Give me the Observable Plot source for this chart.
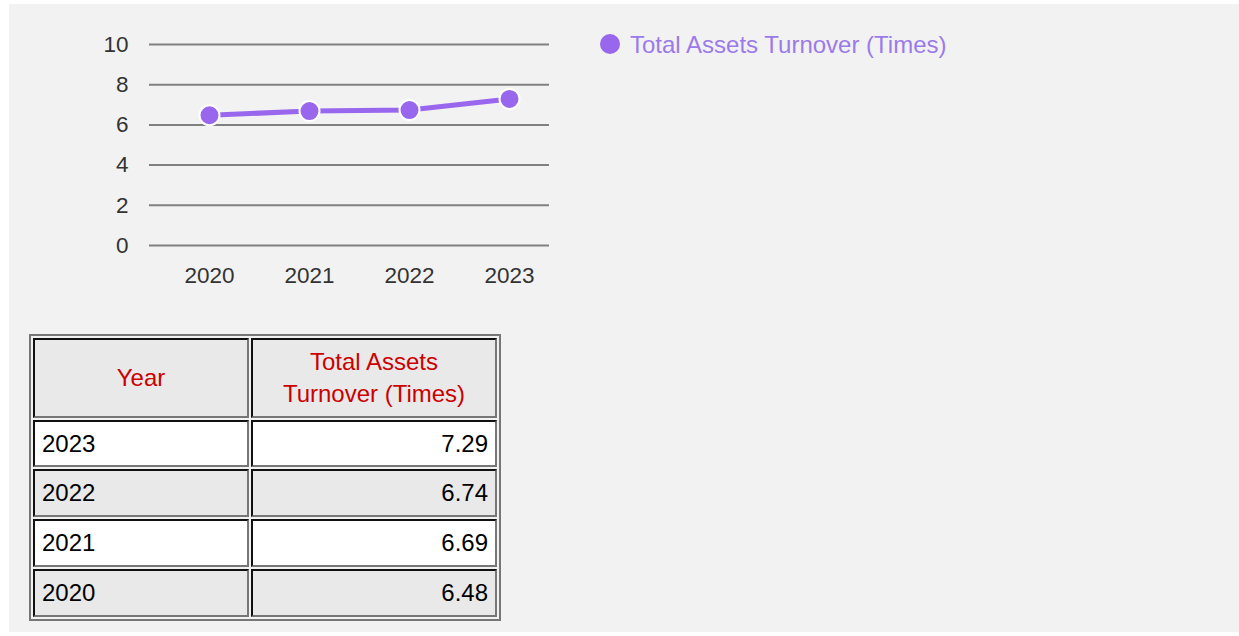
<!DOCTYPE html>
<html>
<head>
<meta charset="utf-8">
<script src="https://cdn.jsdelivr.net/npm/d3@7"></script>
<script src="https://cdn.jsdelivr.net/npm/@observablehq/plot@0.6"></script>
<style>
  html, body { margin: 0; padding: 0; background: #ffffff; }
  body { width: 1239px; height: 636px; position: relative; overflow: hidden; font-family: "Liberation Sans", Arial, sans-serif; }
  #panel { position: absolute; left: 9px; top: 4px; width: 1230px; height: 628px; background: #f2f2f2; }
  #chart { position: absolute; left: 0; top: 0; }
  #legend { position: absolute; left: 600px; top: 33px; height: 24px; }
  #legend .sw { position: absolute; left: 0; top: 1px; width: 20px; height: 20px; border-radius: 50%; background: #9966ee; }
  #legend .lb { position: absolute; left: 30px; top: 0; white-space: nowrap; font-size: 24px; line-height: 24px; color: #9b7be9; }
  #tbl { position: absolute; left: 29px; top: 334px; border: 2px solid #777; border-spacing: 2px; border-collapse: separate; font-size: 24px; line-height: 31.8px; }
  #tbl td, #tbl th { border-style: solid; border-width: 2px; border-color: #111 #777 #777 #111; padding: 6px 7px; font-weight: normal; }
  #tbl th { background: #e9e9e9; color: #cc0000; text-align: center; }
  #tbl td.c1 { width: 198px; text-align: left; }
  #tbl td.c2 { width: 228px; text-align: right; }
  #tbl th.c1 { width: 198px; }
  #tbl th.c2 { width: 228px; }
  #tbl tr.odd td { background: #ffffff; }
  #tbl tr.even td { background: #e9e9e9; }
</style>
</head>
<body>
<div id="panel"></div>
<div id="chart"></div>
<div id="legend"><div class="sw"></div><div class="lb"></div></div>
<table id="tbl"><thead></thead><tbody></tbody></table>
<script>
const years = [2020, 2021, 2022, 2023];
const turnover = [6.48, 6.69, 6.74, 7.29];
const yTicks = [0, 2, 4, 6, 8, 10];
const seriesName = "Total Assets Turnover (Times)";
const headerLabels = ["Year", "Total Assets Turnover (Times)"];

const data = years.map((y, i) => ({year: String(y), value: turnover[i]}));
const purple = "#9966ee";

const chart = Plot.plot({
  width: 560,
  height: 300,
  marginLeft: 149,
  marginRight: 11,
  marginTop: 44,
  marginBottom: 55,
  x: {type: "point", domain: years.map(String), range: [209, 509], padding: 0},
  y: {domain: [0, 10], ticks: yTicks},
  style: {background: "transparent", fontFamily: "'Liberation Sans', Arial, sans-serif", fontSize: "22.5px", color: "#333"},
  marks: [
    Plot.gridY(yTicks, {stroke: "#808080", strokeOpacity: 1, strokeWidth: 2}),
    Plot.axisY(yTicks, {tickSize: 0, tickPadding: 21, label: null, fontSize: 22.5, fill: "#333"}),
    Plot.axisX({tickSize: 0, tickPadding: 22, label: null, fontSize: 22.5, fill: "#333"}),
    Plot.line(data, {x: "year", y: "value", stroke: purple, strokeWidth: 5}),
    Plot.dot(data, {x: "year", y: "value", r: 10, fill: purple, stroke: "white", strokeWidth: 2})
  ]
});
document.getElementById("chart").appendChild(chart);

document.querySelector("#legend .lb").textContent = seriesName;

const thead = document.querySelector("#tbl thead");
const hr = document.createElement("tr");
headerLabels.forEach((h, i) => {
  const th = document.createElement("th");
  th.className = i === 0 ? "c1" : "c2";
  th.textContent = h;
  hr.appendChild(th);
});
thead.appendChild(hr);

const tbody = document.querySelector("#tbl tbody");
const rows = years.map((y, i) => ({year: y, value: turnover[i]})).reverse();
rows.forEach((r, i) => {
  const tr = document.createElement("tr");
  tr.className = i % 2 === 0 ? "odd" : "even";
  const a = document.createElement("td"); a.className = "c1"; a.textContent = r.year;
  const b = document.createElement("td"); b.className = "c2"; b.textContent = r.value.toFixed(2);
  tr.appendChild(a); tr.appendChild(b);
  tbody.appendChild(tr);
});
</script>
</body>
</html>
